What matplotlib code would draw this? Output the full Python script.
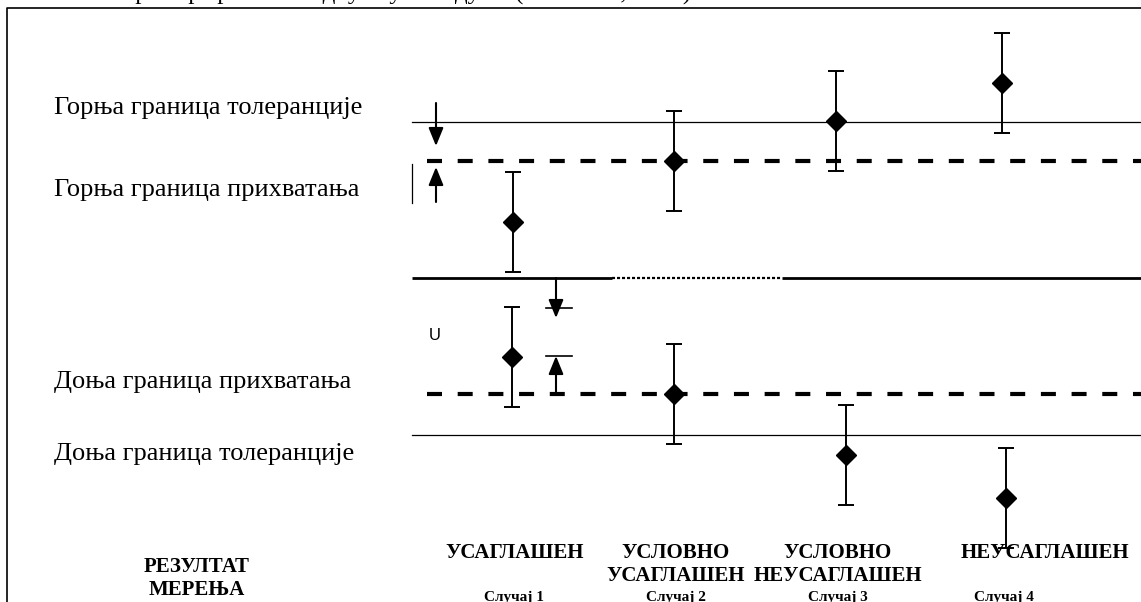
import matplotlib
matplotlib.use("Agg")
import matplotlib.pyplot as plt

plt.rcParams["lines.scale_dashes"] = False

# Decision-rule chart: tolerance and acceptance limits (scale units = 10 px)
upper_tolerance = 15.6
upper_acceptance = 11.7
lower_acceptance = -11.6
lower_tolerance = -15.7
nominal = 0.0

cases = ["Случај 1", "Случај 2", "Случај 3", "Случај 4"]
case_x = [514, 676, 838, 1004]
verdicts = ["УСАГЛАШЕН", "УСЛОВНО\nУСАГЛАШЕН", "УСЛОВНО\nНЕУСАГЛАШЕН", "НЕУСАГЛАШЕН"]
verdict_x = [515, 676, 838, 1045]

# measured values above and below nominal, with expanded uncertainty
upper_x = [513, 674, 836, 1002]
upper_values = [5.6, 11.7, 15.7, 19.5]
lower_x = [512, 674, 846, 1006]
lower_values = [-7.9, -11.6, -17.7, -22.0]
uncertainty = 5.0

limit_labels = ["Горња граница толеранције", "Горња граница прихватања",
                "Доња граница прихватања", "Доња граница толеранције"]
limit_label_y = [17.0, 8.8, -10.4, -17.6]

fig = plt.figure(figsize=(11.41, 6.02), dpi=100)
ax = fig.add_axes([0, 0, 1, 1])
ax.set_xlim(0, 1141)
ax.set_ylim(-32.4, 27.8)
ax.axis("off")

line_start = 412
# limit lines
ax.plot([line_start, 1141], [upper_tolerance] * 2, color="black", lw=0.9)
ax.plot([line_start, 1141], [lower_tolerance] * 2, color="black", lw=0.9)
for y in (upper_acceptance, lower_acceptance):
    ax.plot([427, 1141], [y, y], color="black", lw=3.0, dashes=(10.8, 11.3),
            solid_capstyle="butt", dash_capstyle="butt")

# nominal line (solid with a finely dotted middle stretch)
ax.plot([line_start, 612], [nominal] * 2, color="black", lw=2.0, solid_capstyle="butt")
ax.plot([612, 782], [nominal] * 2, color="black", lw=1.6, dashes=(2.2, 1.4),
        dash_capstyle="butt")
ax.plot([782, 1141], [nominal] * 2, color="black", lw=2.0, solid_capstyle="butt")

# measurement results with uncertainty bars
for xs, ys in ((upper_x, upper_values), (lower_x, lower_values)):
    ax.errorbar(xs, ys, yerr=uncertainty, fmt="D", color="black",
                ms=10.5, ecolor="black", elinewidth=1.4, capsize=6, capthick=1.4)

# guard-band arrows
arrow_style = "-|>,head_length=11,head_width=4.5"


def arrow(x, y_from, y_to):
    ax.annotate("", xy=(x, y_to), xytext=(x, y_from),
                arrowprops=dict(arrowstyle=arrow_style, color="black", lw=1.5,
                                mutation_scale=1, shrinkA=0, shrinkB=0))


arrow(436, 17.5, 13.2)
arrow(436, 7.6, 11.1)
ax.plot([412, 412], [11.4, 7.5], color="black", lw=0.9)

arrow(556, 0.0, -4.0)
ax.plot([546, 572], [-3.0, -3.0], color="black", lw=1.2)
arrow(556, -11.6, -7.8)
ax.plot([546, 572], [-7.8, -7.8], color="black", lw=1.2)
ax.text(435, -5.7, "U", fontsize=12, family="Liberation Sans", ha="center", va="center")

# frame
ax.plot([7, 7, 1141], [-32.4, 27.05, 27.05], color="black", lw=1.2)

serif = "Liberation Serif"
# caption running above the frame
ax.text(8, 27.85, "Слика 2 – Пример граничне одлуке у складу са (ILAC-G8, 2009)",
        fontsize=18, family=serif, ha="left", va="baseline")

# limit labels
for label, y in zip(limit_labels, limit_label_y):
    ax.text(54, y, label, fontsize=19, family=serif, ha="left", va="center")

# result row
ax.text(197, -28.9, "РЕЗУЛТАТ", fontsize=15, family=serif, weight="bold",
        ha="center", va="center")
ax.text(197, -31.2, "МЕРЕЊА", fontsize=15, family=serif, weight="bold",
        ha="center", va="center")
for x, v in zip(verdict_x, verdicts):
    for i, part in enumerate(v.split("\n")):
        ax.text(x, -27.5 - 2.3 * i, part, fontsize=15, family=serif, weight="bold",
                ha="center", va="center")
for x, c in zip(case_x, cases):
    ax.text(x, -31.9, c, fontsize=11, family=serif, weight="bold",
            ha="center", va="center")

fig.savefig("out.png", dpi=100)
